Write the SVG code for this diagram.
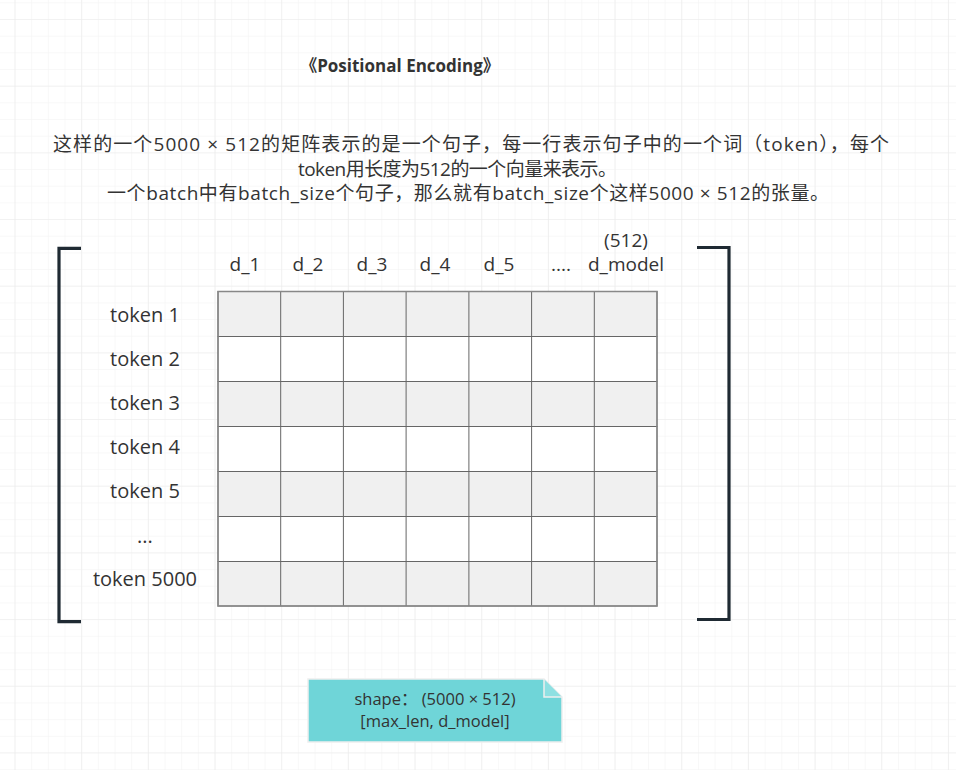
<svg xmlns="http://www.w3.org/2000/svg" width="956" height="770" viewBox="0 0 956 770">
<defs>
<pattern id="minor" x="14.5" y="19" width="16.67" height="16.67" patternUnits="userSpaceOnUse">
<path d="M0,0 H16.67 M0,0 V16.67" fill="none" stroke="#f2f2f2" stroke-width="1"/>
</pattern>
<pattern id="major" x="14.5" y="19" width="66.67" height="66.67" patternUnits="userSpaceOnUse">
<path d="M0,0 H66.67 M0,0 V66.67" fill="none" stroke="#ebebeb" stroke-width="1.2"/>
</pattern>
<style>
.t{font-family:"Open Sans","Noto Sans CJK SC",sans-serif;fill:#333333;font-size:20px;text-anchor:middle}
.h{font-size:19px}
.p{font-size:19px;text-anchor:start}
.b{font-weight:bold;font-size:17px}
.c{fill:#ffffff;stroke:#666666;stroke-width:1}
.g{fill:#f0f0f0}
.br{fill:none;stroke:#1f2a33;stroke-width:3.2}
.n{font-size:16.5px}
</style>
</defs>
<rect width="956" height="770" fill="#ffffff"/>
<rect width="956" height="770" fill="url(#minor)"/>
<rect width="956" height="770" fill="url(#major)"/>

<g id="title"><text class="t b" x="400" y="72">《Positional Encoding》</text></g>
<g id="description">
<text class="t p" x="53" y="151" textLength="836" lengthAdjust="spacing">这样的一个5000 × 512的矩阵表示的是一个句子，每一行表示句子中的一个词（token），每个</text>
<text class="t p" x="298" y="176" textLength="319" lengthAdjust="spacing">token用长度为512的一个向量来表示。</text>
<text class="t p" x="107" y="200" textLength="722" lengthAdjust="spacing">一个batch中有batch_size个句子，那么就有batch_size个这样5000 × 512的张量。</text>
</g>

<g id="left-bracket"><path class="br" d="M81,248.3 H59 V621.7 H81"/></g>
<g id="right-bracket"><path class="br" d="M697,247.5 H729 V619.5 H697"/></g>

<g id="column-headers">
<text class="t h" x="245" y="271">d_1</text>
<text class="t h" x="308" y="271">d_2</text>
<text class="t h" x="372" y="271">d_3</text>
<text class="t h" x="435" y="271">d_4</text>
<text class="t h" x="499" y="271">d_5</text>
<text class="t h" x="561" y="271">....</text>
<text class="t h" x="626" y="271">d_model</text>
<text class="t h" x="626" y="247">(512)</text>
</g>

<g id="row-labels">
<text class="t" x="145" y="322">token 1</text>
<text class="t" x="145" y="366">token 2</text>
<text class="t" x="145" y="410">token 3</text>
<text class="t" x="145" y="454">token 4</text>
<text class="t" x="145" y="498">token 5</text>
<text class="t" x="145" y="543">...</text>
<text class="t" x="145" y="586">token 5000</text>
</g>

<g id="matrix">
<rect class="c g" x="218" y="291.5" width="439" height="45"/>
<rect class="c" x="218" y="336.5" width="439" height="45"/>
<rect class="c g" x="218" y="381.5" width="439" height="45"/>
<rect class="c" x="218" y="426.5" width="439" height="45"/>
<rect class="c g" x="218" y="471.5" width="439" height="45"/>
<rect class="c" x="218" y="516.5" width="439" height="45"/>
<rect class="c g" x="218" y="561.5" width="439" height="44.5"/>
<path d="M280.7,291.5 V606 M343.4,291.5 V606 M406.1,291.5 V606 M468.9,291.5 V606 M531.6,291.5 V606 M594.3,291.5 V606" stroke="#666666" stroke-width="1" fill="none"/>
<rect x="218" y="291.5" width="439" height="314.5" fill="none" stroke="#888888" stroke-width="1.5"/>
</g>

<g id="shape-note">
<path d="M308,679 H544 L562,697 V742 H308 Z" fill="#6fd5d8" stroke="#eeeeee" stroke-width="1.5"/>
<path d="M544,679 V697 H562" fill="#8ee0e2" stroke="#eeeeee" stroke-width="1.5"/>
<text class="t n" x="435" y="705">shape：  (5000 × 512)</text>
<text class="t n" x="435" y="727">[max_len, d_model]</text>
</g>
<g id="connectors"/>
</svg>
